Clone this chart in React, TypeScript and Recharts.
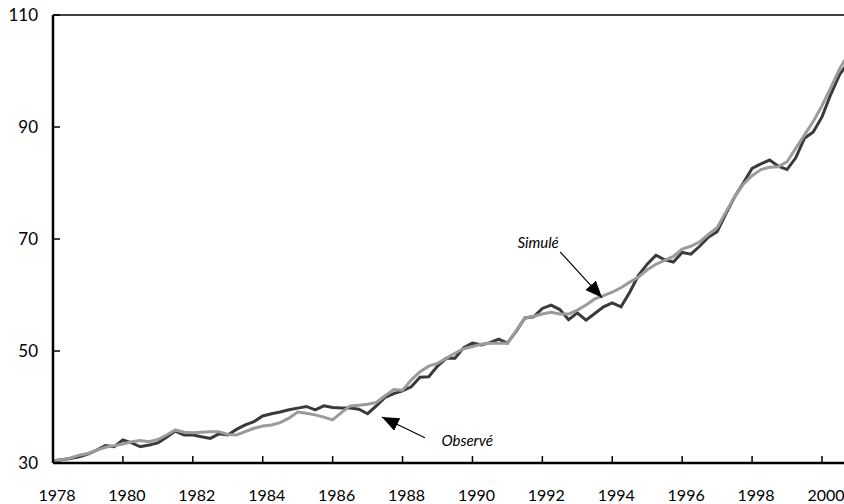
import React from "react";
import { LineChart, Line, XAxis, YAxis, ReferenceLine, ReferenceDot } from "recharts";

// quarterly values, 1978Q1 .. 2000Q4
const observed = [
  30.4, 30.6, 30.8, 31.1,
  31.6, 32.3, 33.1, 32.9,
  34.1, 33.6, 32.9, 33.2,
  33.6, 34.6, 35.7, 35.0,
  35.0, 34.7, 34.4, 35.2,
  35.0, 36.0, 36.8, 37.4,
  38.4, 38.8, 39.1, 39.5,
  39.8, 40.1, 39.5, 40.2,
  39.9, 39.8, 39.8, 39.6,
  38.8, 40.2, 41.7, 42.4,
  42.9, 43.6, 45.3, 45.4,
  47.3, 48.7, 48.7, 50.6,
  51.4, 51.1, 51.5, 52.1,
  51.4, 53.5, 55.9, 56.1,
  57.6, 58.2, 57.4, 55.6,
  56.8, 55.5, 56.7, 57.9,
  58.6, 57.9, 60.5, 63.5,
  65.5, 67.1, 66.3, 65.9,
  67.6, 67.3, 68.7, 70.3,
  71.3, 74.5, 77.5, 80.0,
  82.6, 83.4, 84.1, 83.0,
  82.4, 84.5, 88.0, 89.1,
  91.8, 95.8, 99.3, 101.5,
];

const simulated = [
  30.4, 30.6, 30.9, 31.4,
  31.7, 32.3, 32.8, 33.1,
  33.4, 33.8, 34.0, 33.8,
  34.2, 35.0, 35.9, 35.5,
  35.4, 35.5, 35.6, 35.6,
  35.1, 35.0, 35.6, 36.2,
  36.6, 36.8, 37.2, 38.0,
  39.1, 38.9, 38.6, 38.2,
  37.7, 39.0, 40.2, 40.3,
  40.5, 40.8, 42.0, 43.1,
  43.0, 44.8, 46.3, 47.3,
  47.8, 48.7, 49.6, 50.4,
  50.8, 51.2, 51.4, 51.4,
  51.4, 53.6, 55.9, 56.2,
  56.6, 56.9, 56.6, 56.6,
  57.3, 58.2, 59.3, 59.9,
  60.5, 61.3, 62.3, 63.2,
  64.5, 65.5, 66.2, 66.9,
  68.2, 68.7, 69.5, 70.8,
  72.0, 74.8, 77.5, 79.8,
  81.3, 82.4, 82.8, 82.9,
  83.8, 86.2, 88.6, 91.0,
  93.8, 97.0, 100.3, 103.0,
];

const startYear = 1978;
const xTicks = [1978, 1980, 1982, 1984, 1986, 1988, 1990, 1992, 1994, 1996, 1998, 2000];
const yTicks = [30, 50, 70, 90, 110];

const data = observed.map((v, i) => ({ t: startYear + i / 4, obs: v, sim: simulated[i] }));

const font = "Lato, 'Open Sans', sans-serif";

const XTick = (props: any) => {
  const { x, y, payload } = props;
  return (
    <g>
      <line x1={x} y1={y} x2={x} y2={y - 7} stroke="#000" strokeWidth={1.5} />
      <text x={x + 4} y={y + 38} textAnchor="middle" fontSize={16} fontFamily={font} fill="#000">
        {payload.value}
      </text>
    </g>
  );
};

const YTick = (props: any) => {
  const { x, y, payload } = props;
  return (
    <g>
      <line x1={x} y1={y} x2={x + 7} y2={y} stroke="#000" strokeWidth={1.5} />
      <text x={x - 15} y={y} dy="0.35em" textAnchor="end" fontSize={17} fontFamily={font} fill="#000">
        {payload.value}
      </text>
    </g>
  );
};

const note = (txt: string) => (p: any) => (
  <text x={p.cx} y={p.cy} dy="0.35em" textAnchor="middle" fontSize={15} fontStyle="italic" fontFamily={font} fill="#000">
    {txt}
  </text>
);

export default function App() {
  return (
    <div style={{ position: "fixed", left: 0, top: 0, width: 844, height: 504, background: "#fff" }}>
      <svg width={0} height={0} style={{ position: "absolute" }}>
        <defs>
          <marker id="arrow" markerUnits="userSpaceOnUse" markerWidth={17} markerHeight={14} refX={17} refY={7} orient="auto">
            <path d="M0,0 L17,7 L0,14 z" fill="#000" />
          </marker>
        </defs>
      </svg>
      <LineChart width={844} height={504} data={data} margin={{ top: 15, right: 0, bottom: 0, left: 0 }}>
        <XAxis
          dataKey="t"
          type="number"
          domain={[1978, 2000.63]}
          allowDataOverflow
          ticks={xTicks}
          height={41}
          tickSize={0}
          tickMargin={0}
          tick={<XTick />}
          axisLine={{ stroke: "#000", strokeWidth: 2.5 }}
          tickLine={false}
          interval={0}
        />
        <YAxis
          type="number"
          domain={[30, 110]}
          ticks={yTicks}
          width={53}
          tickSize={0}
          tickMargin={0}
          tick={<YTick />}
          axisLine={{ stroke: "#000", strokeWidth: 2.5 }}
          tickLine={false}
          interval={0}
        />
        <ReferenceLine y={110} stroke="#000" strokeWidth={1.5} />
        <Line dataKey="obs" stroke="#3a3a3a" strokeWidth={3} dot={false} isAnimationActive={false} />
        <Line dataKey="sim" stroke="#9b9b9b" strokeWidth={3} dot={false} isAnimationActive={false} />
        <ReferenceLine
          segment={[{ x: 1992.51, y: 67.7 }, { x: 1993.71, y: 59.5 }]}
          stroke="#000"
          strokeWidth={1.2}
          markerEnd="url(#arrow)"
        />
        <ReferenceLine
          segment={[{ x: 1988.64, y: 34.5 }, { x: 1987.41, y: 38.2 }]}
          stroke="#000"
          strokeWidth={1.2}
          markerEnd="url(#arrow)"
        />
        <ReferenceDot x={1991.88} y={69.3} r={0} shape={note("Simulé")} />
        <ReferenceDot x={1989.85} y={33.9} r={0} shape={note("Observé")} />
      </LineChart>
    </div>
  );
}
